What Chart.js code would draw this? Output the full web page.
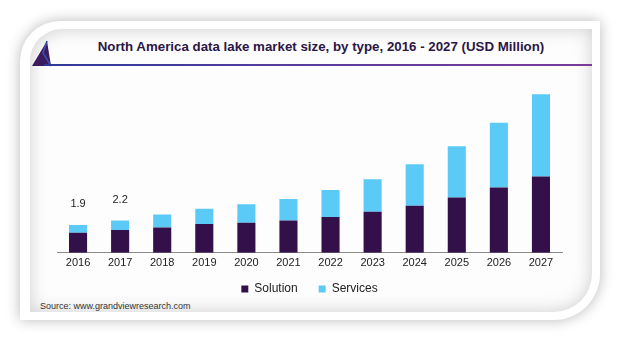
<!DOCTYPE html>
<html>
<head>
<meta charset="utf-8">
<script src="https://cdn.jsdelivr.net/npm/chart.js@4/dist/chart.umd.min.js"></script>
<style>
  html, body { margin: 0; padding: 0; background: #ffffff; }
  body { width: 624px; height: 343px; position: relative; overflow: hidden; font-family: "Liberation Sans", Arial, sans-serif; }
  .card {
    position: absolute; left: 20px; top: 21px; width: 580px; height: 299px;
    background: #ffffff; border-radius: 40px 0 46px 0;
    box-shadow: 0 0 14px rgba(0,0,0,0.28);
  }
  .panel {
    position: absolute; left: 30px; top: 29px; width: 562px; height: 283px;
    background: #fdfdfd; border-radius: 32px 0 38px 0;
    box-shadow: inset 0 0 18px rgba(0,0,0,0.19);
  }
  .title {
    position: absolute; left: 30px; width: 582px; top: 39px; text-align: center;
    font-weight: bold; font-size: 13.3px; color: #2b1645; white-space: nowrap;
  }
  .rule {
    position: absolute; left: 44px; top: 64px; width: 548px; height: 2px;
    background: linear-gradient(to right, #2d3a9a, #5a3c9e 50%, #7b3b98);
  }
  .source {
    position: absolute; left: 40px; top: 301px; font-size: 9px; color: #333333;
  }
  svg.mark { position: absolute; left: 0; top: 0; }
  canvas#chart { position: absolute; left: 0; top: 0; }
</style>
</head>
<body>
<div class="card"></div>
<div class="panel"></div>
<svg class="mark" width="80" height="80">
  <polygon points="32,66 47,41 51,66" fill="#3b1a5e"/>
  <polyline points="47,41 43,53 51,66" fill="none" stroke="#3550b0" stroke-width="1.6"/>
</svg>
<div class="rule"></div>
<div class="title">North America data lake market size, by type, 2016 - 2027 (USD Million)</div>
<div class="source">Source: www.grandviewresearch.com</div>
<canvas id="chart" width="624" height="343"></canvas>
<script>
// Market size by type, USD million
const years = ['2016','2017','2018','2019','2020','2021','2022','2023','2024','2025','2026','2027'];
const solution = [1.37, 1.55, 1.73, 1.96, 2.05, 2.21, 2.45, 2.81, 3.22, 3.77, 4.45, 5.21];
const services = [0.53, 0.65, 0.89, 1.05, 1.26, 1.47, 1.84, 2.21, 2.83, 3.51, 4.43, 5.61];
// Totals printed above the first two bars
const labelledYears = ['2016', '2017'];

const totalLabels = {
  id: 'totalLabels',
  afterDatasetsDraw(chart) {
    const ctx = chart.ctx;
    const meta = chart.getDatasetMeta(1);
    ctx.save();
    ctx.font = '11px "Liberation Sans", Arial, sans-serif';
    ctx.fillStyle = '#222222';
    ctx.textAlign = 'center';
    ctx.textBaseline = 'middle';
    years.forEach((y, i) => {
      if (!labelledYears.includes(y)) return;
      const total = solution[i] + services[i];
      const bar = meta.data[i];
      ctx.fillText(total.toFixed(1), bar.x, bar.y - 21);
    });
    ctx.restore();
  }
};

// Pull the legend row up closer to the axis labels
const legendRow = {
  id: 'legendRow',
  afterLayout(chart) {
    const lg = chart.legend;
    if (!lg) return;
    lg.top = 262;
    lg.bottom = lg.top + lg.height;
  }
};

new Chart(document.getElementById('chart'), {
  type: 'bar',
  data: {
    labels: years,
    datasets: [
      { label: 'Solution', data: solution, backgroundColor: '#33104a', barPercentage: 0.43, categoryPercentage: 1 },
      { label: 'Services', data: services, backgroundColor: '#5ccaf6', barPercentage: 0.43, categoryPercentage: 1 }
    ]
  },
  options: {
    responsive: false,
    animation: false,
    layout: { padding: { left: 57, right: 62, top: 77, bottom: 26 } },
    plugins: {
      title: { display: false },
      tooltip: { enabled: false },
      legend: {
        position: 'bottom',
        labels: {
          boxWidth: 7, boxHeight: 7, padding: 21,
          color: '#222222',
          font: { size: 12, family: '"Liberation Sans", Arial, sans-serif' }
        }
      }
    },
    scales: {
      x: {
        stacked: true,
        grid: { display: false, drawTicks: false },
        border: { display: true, color: '#8a8a8a', width: 1 },
        ticks: { color: '#222222', padding: 4, font: { size: 11, family: '"Liberation Sans", Arial, sans-serif' } }
      },
      y: {
        stacked: true, display: false, min: 0, max: 12
      }
    }
  },
  plugins: [totalLabels, legendRow]
});
</script>
</body>
</html>
